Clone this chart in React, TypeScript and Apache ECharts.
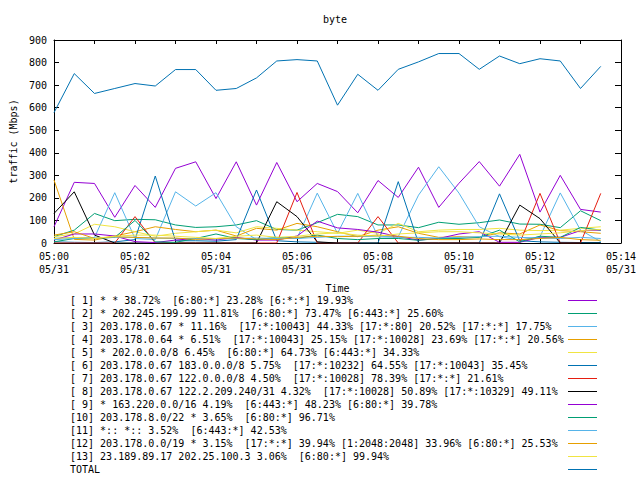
import React, { useEffect, useRef } from "react";
import * as echarts from "echarts";

// sample times, seconds after 05:00
const times = [0, 30, 60, 90, 120, 150, 180, 210, 240, 270, 300, 330, 360, 390, 420, 450, 480, 510, 540, 570, 600, 630, 660, 690, 720, 750, 780, 810];

const xTickLabels = ["05:00", "05:02", "05:04", "05:06", "05:08", "05:10", "05:12", "05:14"];
const xTickDate = "05/31";

const seriesNames = [
  "[ 1] * * 38.72%  [6:80:*] 23.28% [6:*:*] 19.93%",
  "[ 2] * 202.245.199.99 11.81%  [6:80:*] 73.47% [6:443:*] 25.60%",
  "[ 3] 203.178.0.67 * 11.16%  [17:*:10043] 44.33% [17:*:80] 20.52% [17:*:*] 17.75%",
  "[ 4] 203.178.0.64 * 6.51%  [17:*:10043] 25.15% [17:*:10028] 23.69% [17:*:*] 20.56%",
  "[ 5] * 202.0.0.0/8 6.45%  [6:80:*] 64.73% [6:443:*] 34.33%",
  "[ 6] 203.178.0.67 183.0.0.0/8 5.75%  [17:*:10232] 64.55% [17:*:10043] 35.45%",
  "[ 7] 203.178.0.67 122.0.0.0/8 4.50%  [17:*:10028] 78.39% [17:*:*] 21.61%",
  "[ 8] 203.178.0.67 122.2.209.240/31 4.32%  [17:*:10028] 50.89% [17:*:10329] 49.11%",
  "[ 9] * 163.220.0.0/16 4.19%  [6:443:*] 48.23% [6:80:*] 39.78%",
  "[10] 203.178.8.0/22 * 3.65%  [6:80:*] 96.71%",
  "[11] *:: *:: 3.52%  [6:443:*] 42.53%",
  "[12] 203.178.0.0/19 * 3.15%  [17:*:*] 39.94% [1:2048:2048] 33.96% [6:80:*] 25.53%",
  "[13] 23.189.89.17 202.25.100.3 3.06%  [6:80:*] 99.94%",
  "TOTAL",
];

const seriesColors = [
  "#9400d3", "#009e73", "#56b4e9", "#e69f00", "#f0e442", "#0072b2", "#e51e10",
  "#000000", "#9400d3", "#009e73", "#56b4e9", "#e69f00", "#f0e442", "#0072b2",
];

const s1 = [72, 269, 264, 114, 255, 158, 331, 360, 197, 360, 168, 357, 183, 264, 228, 134, 277, 202, 336, 158, 265, 361, 252, 393, 137, 300, 149, 137];
const s2 = [28, 57, 131, 99, 105, 103, 80, 69, 72, 80, 99, 60, 57, 90, 127, 117, 80, 80, 68, 92, 83, 90, 102, 84, 83, 68, 143, 99];
const s3 = [21, 24, 24, 223, 20, 15, 227, 164, 223, 72, 15, 20, 20, 221, 43, 220, 28, 28, 212, 338, 221, 72, 28, 13, 28, 222, 57, 6];
const s4 = [279, 16, 13, 31, 50, 72, 60, 50, 57, 31, 65, 57, 87, 72, 50, 28, 57, 72, 43, 25, 28, 25, 45, 40, 80, 55, 50, 43];
const s5 = [28, 40, 83, 72, 50, 30, 43, 50, 57, 45, 72, 65, 57, 50, 43, 57, 43, 87, 50, 57, 60, 60, 65, 57, 55, 57, 65, 72];
const s6 = [5, 3, 2, 5, 15, 297, 10, 10, 8, 15, 235, 10, 5, 3, 0, 0, 0, 272, 0, 0, 0, 0, 218, 10, 5, 3, 2, 2];
const s7 = [0, 0, 0, 0, 117, 0, 0, 0, 0, 0, 0, 0, 224, 0, 0, 0, 117, 0, 0, 0, 0, 0, 0, 0, 220, 0, 0, 220];
const s8 = [131, 227, 35, 0, 0, 0, 0, 0, 0, 0, 0, 183, 117, 5, 0, 0, 0, 0, 0, 0, 0, 0, 0, 168, 108, 0, 0, 0];
const s9 = [13, 40, 40, 31, 6, 2, 13, 20, 13, 25, 13, 13, 31, 97, 67, 60, 48, 28, 13, 20, 40, 50, 3, 3, 25, 25, 55, 57];
const s10 = [5, 20, 20, 25, 100, 5, 3, 20, 40, 20, 15, 25, 20, 35, 20, 15, 20, 20, 12, 20, 20, 25, 57, 5, 30, 25, 69, 57];
const s11 = [15, 20, 22, 25, 25, 22, 20, 20, 18, 20, 22, 20, 20, 25, 30, 30, 28, 25, 25, 22, 25, 28, 30, 25, 22, 20, 25, 20];
const s12 = [35, 50, 20, 28, 25, 22, 22, 16, 20, 22, 18, 15, 25, 30, 28, 30, 35, 30, 20, 15, 15, 18, 15, 15, 20, 25, 15, 12];
const s13 = [20, 25, 20, 30, 35, 35, 30, 25, 20, 30, 35, 25, 30, 40, 45, 35, 30, 40, 45, 50, 50, 45, 40, 35, 40, 45, 55, 60];
const total = [578, 751, 663, 685, 707, 696, 769, 769, 677, 685, 732, 807, 813, 807, 611, 748, 677, 770, 803, 840, 840, 770, 829, 795, 817, 807, 685, 783];

const seriesValues = [s1, s2, s3, s4, s5, s6, s7, s8, s9, s10, s11, s12, s13, total];

const FONT = "DejaVu Sans Mono";

export default function App() {
  const ref = useRef<HTMLDivElement>(null);
  useEffect(() => {
    if (!ref.current) return;
    const chart = echarts.init(ref.current, undefined, { renderer: "svg" });
    const axisLineStyle = { color: "#000", width: 1 };

    // key (legend) drawn gnuplot-style: text on the left, sample line on the right
    const keyTop = 300;
    const keyRow = 13;
    const keyElements: any[] = [];
    seriesNames.forEach((name, k) => {
      const cy = keyTop + keyRow * k;
      keyElements.push({
        type: "text",
        x: 70,
        y: cy,
        silent: true,
        style: {
          text: name,
          fontFamily: FONT,
          fontSize: 10,
          fill: "#000",
          align: "left",
          verticalAlign: "middle",
        },
      });
      keyElements.push({
        type: "line",
        silent: true,
        shape: { x1: 568, y1: cy + 0.5, x2: 597, y2: cy + 0.5 },
        style: { stroke: seriesColors[k], lineWidth: 1 },
      });
    });

    const option: any = {
      animation: false,
      backgroundColor: "#fff",
      textStyle: { fontFamily: FONT, fontSize: 10, color: "#000" },
      title: {
        text: "byte",
        left: 323,
        top: 14,
        padding: 0,
        textStyle: { fontFamily: FONT, fontSize: 10, fontWeight: "normal", color: "#000" },
      },
      grid: { left: 52, right: 19, top: 40, bottom: 237, containLabel: false },
      graphic: keyElements,
      xAxis: [
        {
          type: "value",
          min: 0,
          max: 840,
          interval: 60,
          position: "bottom",
          name: "Time",
          nameLocation: "middle",
          nameGap: 40,
          nameTextStyle: { fontFamily: FONT, fontSize: 10, color: "#000" },
          axisLine: { show: true, lineStyle: axisLineStyle },
          axisTick: { show: true, inside: true, length: 4, lineStyle: axisLineStyle },
          splitLine: { show: false },
          axisLabel: {
            margin: 7,
            fontFamily: FONT,
            fontSize: 10,
            lineHeight: 13,
            color: "#000",
            showMinLabel: true,
            showMaxLabel: true,
            formatter: (v: number) =>
              v % 120 === 0 ? `${xTickLabels[v / 120]}\n${xTickDate}` : "",
          },
        },
        {
          type: "value",
          min: 0,
          max: 840,
          interval: 60,
          position: "top",
          axisLine: { show: true, onZero: false, lineStyle: axisLineStyle },
          axisTick: { show: true, inside: true, length: 4, lineStyle: axisLineStyle },
          axisLabel: { show: false },
          splitLine: { show: false },
        },
      ],
      yAxis: [
        {
          type: "value",
          min: 0,
          max: 900,
          interval: 100,
          position: "left",
          name: "traffic (Mbps)",
          nameLocation: "middle",
          nameGap: 36,
          nameTextStyle: { fontFamily: FONT, fontSize: 10, color: "#000" },
          axisLine: { show: true, lineStyle: axisLineStyle },
          axisTick: { show: true, inside: true, length: 5, lineStyle: axisLineStyle },
          splitLine: { show: false },
          axisLabel: { margin: 7, fontFamily: FONT, fontSize: 10, color: "#000" },
        },
        {
          type: "value",
          min: 0,
          max: 900,
          interval: 100,
          position: "right",
          axisLine: { show: true, onZero: false, lineStyle: axisLineStyle },
          axisTick: { show: true, inside: true, length: 6, lineStyle: axisLineStyle },
          axisLabel: { show: false },
          splitLine: { show: false },
        },
      ],
      series: seriesNames.map((name, k) => ({
        name,
        type: "line",
        xAxisIndex: 0,
        yAxisIndex: 0,
        symbol: "none",
        showSymbol: false,
        silent: true,
        color: seriesColors[k],
        lineStyle: { color: seriesColors[k], width: 1 },
        itemStyle: { color: seriesColors[k] },
        data: times.map((t, i) => [t, seriesValues[k][i]]),
      })),
    };
    chart.setOption(option);
    return () => chart.dispose();
  }, []);
  return (
    <div
      ref={ref}
      style={{ position: "fixed", left: 0, top: 0, width: 640, height: 480, background: "#fff" }}
    />
  );
}
